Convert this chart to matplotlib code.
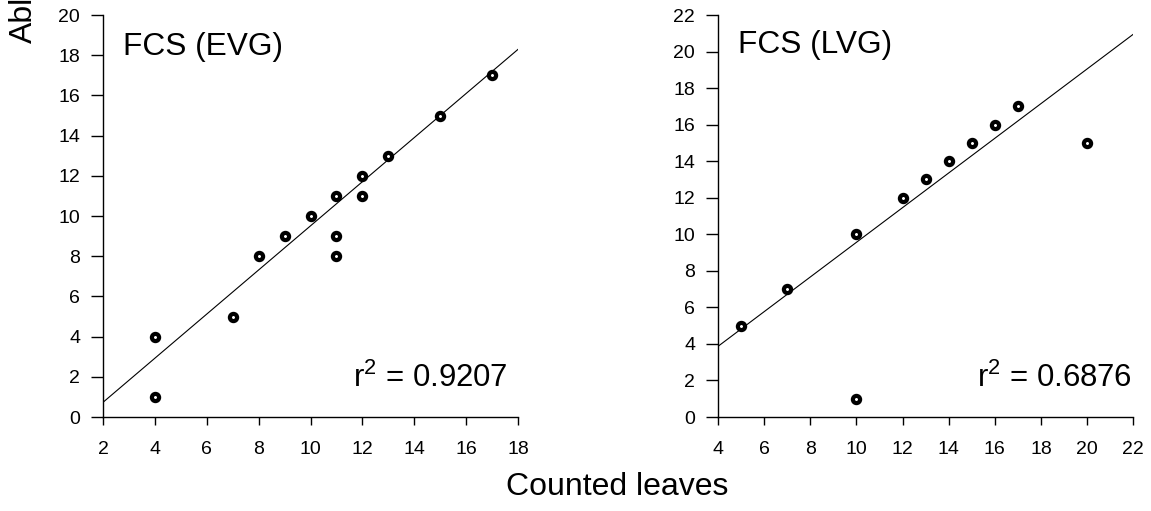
import matplotlib
matplotlib.use("Agg")
import matplotlib.pyplot as plt
import numpy as np

plt.rcParams['font.family'] = ['Liberation Sans', 'DejaVu Sans']
plt.rcParams['mathtext.fontset'] = 'custom'
plt.rcParams['mathtext.rm'] = 'Liberation Sans'
plt.rcParams['mathtext.it'] = 'Liberation Sans'

# FCS (EVG): counted vs. read leaf numbers
evg_counted = [4, 4, 7, 8, 9, 10, 11, 11, 11, 12, 12, 13, 15, 17]
evg_read = [4, 1, 5, 8, 9, 10, 11, 9, 8, 12, 11, 13, 15, 17]
evg_fit = [-1.465, 1.0975]   # intercept, slope
evg_r2 = "0.9207"

# FCS (LVG)
lvg_counted = [5, 7, 10, 10, 12, 13, 14, 15, 16, 17, 20]
lvg_read = [5, 7, 10, 1, 12, 13, 14, 15, 16, 17, 15]
lvg_fit = [0.07, 0.949]
lvg_r2 = "0.6876"

panels = [
    dict(name="FCS (EVG)", x=evg_counted, y=evg_read, fit=evg_fit, r2=evg_r2,
         xlim=(2, 18), ylim=(0, 20), xticks=np.arange(2, 19, 2), yticks=np.arange(0, 21, 2)),
    dict(name="FCS (LVG)", x=lvg_counted, y=lvg_read, fit=lvg_fit, r2=lvg_r2,
         xlim=(4, 22), ylim=(0, 22), xticks=np.arange(4, 23, 2), yticks=np.arange(0, 23, 2)),
]

W, H = 1151, 511
fig = plt.figure(figsize=(W / 100, H / 100), dpi=100)

axes_px = [(103, 15, 518, 417), (718, 15, 1133.3, 417)]

for p, (x0, y0, x1, y1) in zip(panels, axes_px):
    ax = fig.add_axes([x0 / W, 1 - y1 / H, (x1 - x0) / W, (y1 - y0) / H])
    ax.set_xlim(*p["xlim"])
    ax.set_ylim(*p["ylim"])
    for s in ("top", "right"):
        ax.spines[s].set_visible(False)
    for s in ("left", "bottom"):
        ax.spines[s].set_linewidth(1.0)
    ax.set_xticks(p["xticks"])
    ax.set_yticks(p["yticks"])
    ax.tick_params(axis="x", direction="out", length=6, width=1.0, pad=11, labelsize=14)
    ax.tick_params(axis="y", direction="out", length=8.5, width=1.0, pad=8, labelsize=14)

    xs = np.array(p["xlim"], dtype=float)
    b0, b1 = p["fit"]
    ax.plot(xs, b0 + b1 * xs, color="black", lw=0.8, clip_on=True)
    ax.plot(p["x"], p["y"], linestyle="none", marker="o", markersize=5.2,
            markerfacecolor="white", markeredgecolor="black", markeredgewidth=3.0,
            clip_on=False, zorder=3)

fig.text(123 / W, 1 - 55 / H, "FCS (EVG)", fontsize=22.8, ha="left", va="baseline")
fig.text(738 / W, 1 - 53 / H, "FCS (LVG)", fontsize=22.8, ha="left", va="baseline")
fig.text(508 / W, 1 - 386.7 / H, r"r$^2$ = " + evg_r2, fontsize=22.4, ha="right", va="baseline")
fig.text(1132 / W, 1 - 386.7 / H, r"r$^2$ = " + lvg_r2, fontsize=22.4, ha="right", va="baseline")

fig.text(617 / W, 1 - 495 / H, "Counted leaves", fontsize=23, ha="center", va="baseline")
fig.text(32 / W, 1 - 43 / H, "Ablesungen", fontsize=23, rotation=90,
         rotation_mode="anchor", ha="left", va="baseline")

fig.savefig("out.png", dpi=100)
